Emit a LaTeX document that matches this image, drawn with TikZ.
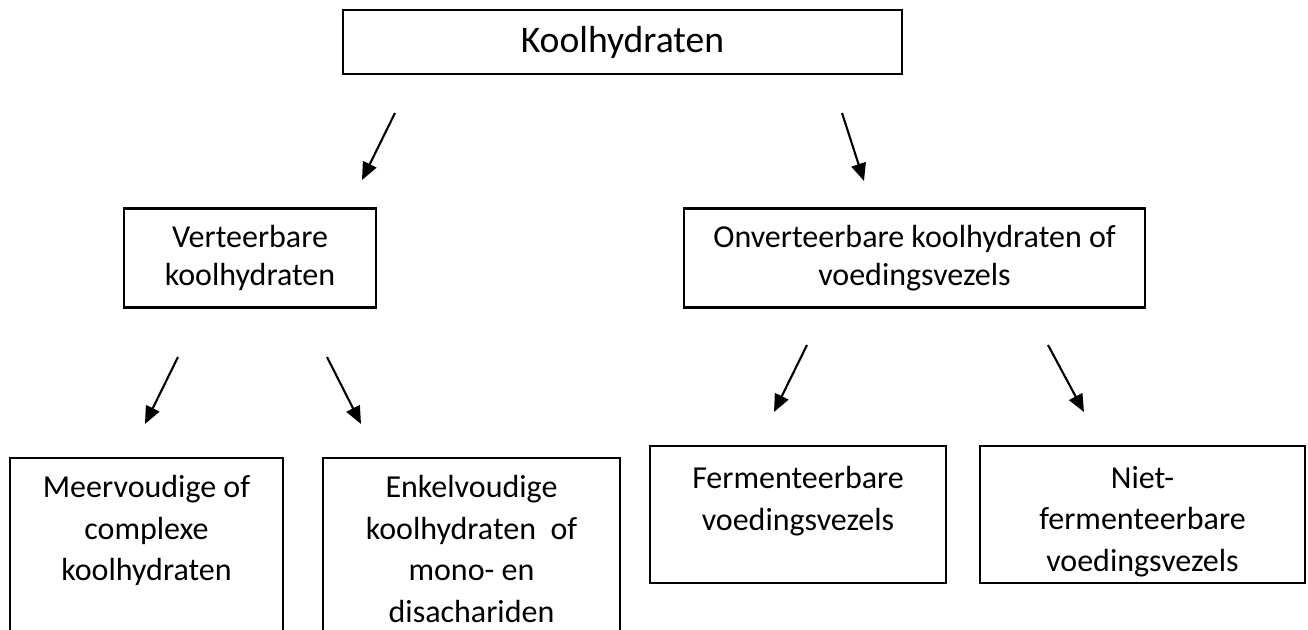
\documentclass[tikz,border=0pt]{standalone}
\usepackage{fontspec}
\setmainfont{Carlito}
\usetikzlibrary{arrows.meta}

\tikzset{
  box/.style={draw, line width=0.6pt, inner sep=0pt},
  txt/.style={align=center, inner sep=0pt, font=\fontsize{9.1}{10.8}\selectfont},
  lowtxt/.style={txt, anchor=north, font=\fontsize{9.1}{11.9}\selectfont},
}

\begin{document}
\begin{tikzpicture}[x=0.01cm, y=-0.01cm, line width=0.6pt,
  >={Triangle[length=5pt, width=4.2pt]}]
\useasboundingbox (0,0) rectangle (1308,630);
\clip (0,0) rectangle (1308,630);
% boxes
\node[box, minimum width=5.59cm, minimum height=0.64cm,
  font=\fontsize{10.7}{12.5}\selectfont] (K) at (622.5,42) {Koolhydraten};
\node[box, txt, minimum width=2.52cm, minimum height=0.99cm] (V) at (250,258) {Verteerbare\\koolhydraten};
\node[box, txt, minimum width=4.61cm, minimum height=0.99cm] (O) at (914.5,258) {Onverteerbare koolhydraten of\\voedingsvezels};
\node[box, minimum width=2.73cm, minimum height=2.24cm, anchor=north] (M) at (146.5,457) {};
\node[box, minimum width=2.97cm, minimum height=2.24cm, anchor=north] (E) at (471.5,457) {};
\node[box, minimum width=2.96cm, minimum height=1.37cm, anchor=north] (F) at (798,445) {};
\node[box, minimum width=3.25cm, minimum height=1.37cm, anchor=north] (N) at (1142.5,445) {};
\node[lowtxt] (Mt) at (146.5,474) {Meervoudige of\\complexe\\koolhydraten};
\node[lowtxt] (Et) at (471.5,474) {Enkelvoudige\\koolhydraten~ of\\mono- en\\disachariden};
\node[lowtxt] (Ft) at (798,465) {Fermenteerbare\\voedingsvezels};
\node[lowtxt] (Nt) at (1142.5,465) {Niet-\\fermenteerbare\\voedingsvezels};
% arrow ends
\coordinate (a1) at (395,113);
\coordinate (b1) at (362,180);
\coordinate (a2) at (842,113);
\coordinate (b2) at (864,181);
\coordinate (a3) at (178,357);
\coordinate (b3) at (145,424);
\coordinate (a4) at (327,357);
\coordinate (b4) at (361,424);
\coordinate (a5) at (807,345);
\coordinate (b5) at (774,412);
\coordinate (a6) at (1048,345);
\coordinate (b6) at (1084,412);
\draw [->] (a1) -- (b1);
\draw [->] (a2) -- (b2);
\draw [->] (a3) -- (b3);
\draw [->] (a4) -- (b4);
\draw [->] (a5) -- (b5);
\draw [->] (a6) -- (b6);
\end{tikzpicture}
\end{document}
